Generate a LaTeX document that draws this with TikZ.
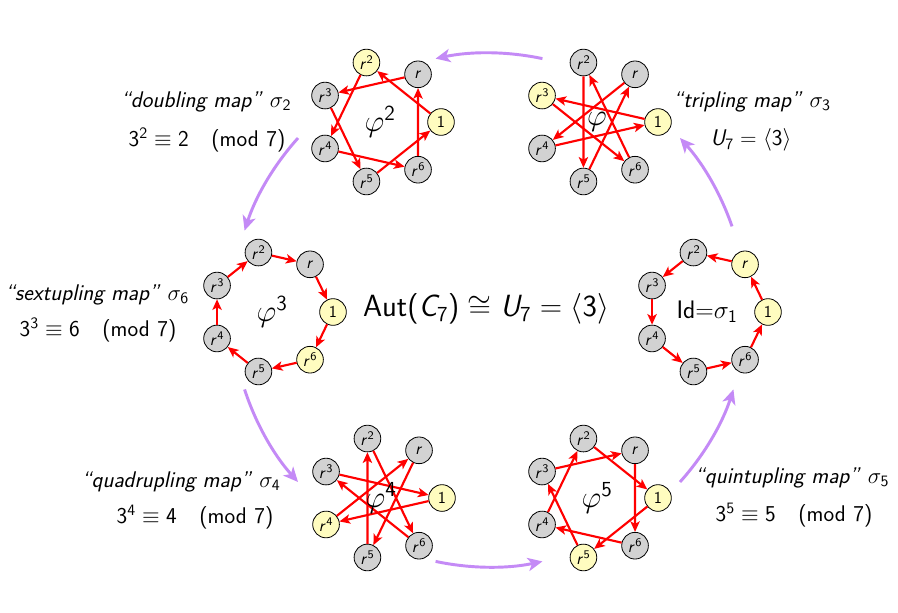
\RequirePackage{fix-cm}
\documentclass[tikz,border=0pt]{standalone}
\usetikzlibrary{arrows.meta}
\makeatletter
\DeclareSymbolFont{sfletters}{OT1}{cmss}{m}{sl}
\SetSymbolFont{operators}{normal}{OT1}{cmss}{m}{n}
\count@=`a
\loop \Umathcode\count@=7 \symsfletters \count@ \ifnum\count@<`z \advance\count@ by 1 \repeat
\count@=`A
\loop \Umathcode\count@=7 \symsfletters \count@ \ifnum\count@<`Z \advance\count@ by 1 \repeat
\makeatother
\renewcommand{\familydefault}{\sfdefault}
\definecolor{purpA}{RGB}{196,138,246}
\colorlet{nodeY}{yellow!25}
\colorlet{nodeG}{gray!35}
\tikzset{
  vtx/.style={circle,draw=black,line width=0.6pt,minimum size=20pt,inner sep=0pt,font=\fontsize{12.5}{14}\selectfont},
  redarr/.style={draw=red,line width=1.6pt,-{Stealth[length=8pt,width=7pt,inset=2pt]}},
  biglab/.style={font=\fontsize{23}{27}\selectfont,inner sep=0pt},
  maplab/.style={font=\fontsize{17}{20}\selectfont,inner sep=0pt},
  purparr/.style={draw=purpA,line width=2.2pt,-{Stealth[length=11pt,width=10pt,inset=3pt]}},
}
\newcommand{\cyclegraph}[5]{%
  \foreach \i in {0,...,6}{%
    \ifnum\i=0 \def\lab{1}\else\ifnum\i=1 \def\lab{r}\else\edef\lab{r^{\i}}\fi\fi
    \ifnum\i=0 \def\fcol{nodeY}\else\ifnum\i=#4 \def\fcol{nodeY}\else\def\fcol{nodeG}\fi\fi
    \node[vtx,fill=\fcol] (#1\i) at ({#2+61*cos(\i*360/7)},{#3-61*sin(\i*360/7)}) {$\lab$};
  }
  \foreach \i in {0,...,6}{%
    \pgfmathtruncatemacro{\j}{mod(\i+#4,7)}
    \draw[redarr] (#1\i) -- (#1\j);
  }
  \node[biglab] (#1c) at (#2,#3) {#5};
}
\begin{document}
\begin{tikzpicture}[x=0.75pt,y=-0.75pt]
\fill[white] (0,0) rectangle (898,612);
\useasboundingbox (0,0) rectangle (898,612);

\cyclegraph{A}{597}{122}{3}{$\varphi$}
\cyclegraph{B}{380}{122}{2}{$\varphi^2$}
\cyclegraph{C}{272}{312}{6}{$\varphi^3$}
\cyclegraph{D}{381}{498}{4}{$\varphi^4$}
\cyclegraph{E}{597}{498}{5}{$\varphi^5$}
\cyclegraph{F}{707}{312}{1}{\fontsize{19}{22}\selectfont$\mathrm{Id}{=}\sigma_1$}

\node[biglab] (title) at (486,309) {$\mathrm{Aut}(C_7)\cong U_7=\langle 3\rangle$};

\foreach \sa/\ea in {19/42, 78/102, 138/162, 198/222, 258/282, 318/342}
  \draw[purparr] ({489+257*cos(\sa)},{310-257*sin(\sa)}) arc[start angle=-\sa, end angle=-\ea, radius=257];

\node[maplab] (d1) at (206,102) {\itshape “doubling map”\/ $\sigma_2$};
\node[maplab] (d2) at (207,140) {$3^2\equiv 2 \pmod{7}$};
\node[maplab] (t1) at (752,102) {\itshape “tripling map”\/ $\sigma_3$};
\node[maplab] (t2) at (751,140) {$U_7=\langle 3\rangle$};
\node[maplab] (s1) at (97,295) {\itshape “sextupling map”\/ $\sigma_6$};
\node[maplab] (s2) at (98,330) {$3^3\equiv 6 \pmod{7}$};
\node[maplab] (q1) at (181,482) {\itshape “quadrupling map”\/ $\sigma_4$};
\node[maplab] (q2) at (195,517) {$3^4\equiv 4 \pmod{7}$};
\node[maplab] (p1) at (792,478) {\itshape “quintupling map”\/ $\sigma_5$};
\node[maplab] (p2) at (794,515) {$3^5\equiv 5 \pmod{7}$};
\end{tikzpicture}
\end{document}
